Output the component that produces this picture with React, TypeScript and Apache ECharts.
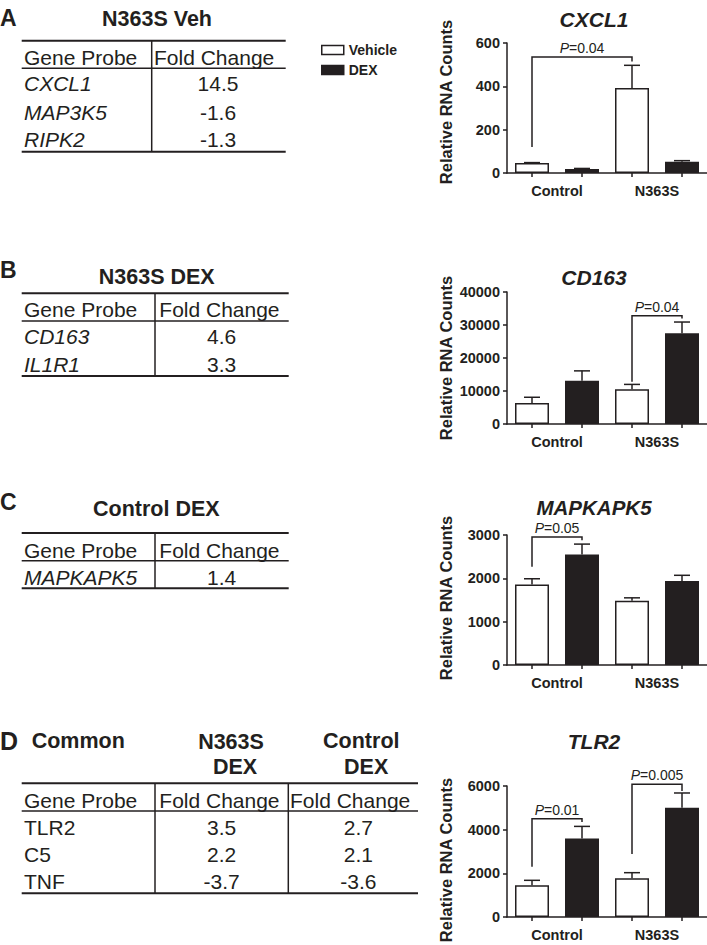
import React, { useEffect, useRef } from "react";
import * as echarts from "echarts";

// ---------- data ----------
const barCategories = ["Control Vehicle", "Control DEX", "N363S Vehicle", "N363S DEX"];
const groupLabels = ["Control", "N363S"];
const seriesNames = ["Vehicle", "DEX"];

const cxcl1Mean = [46, 18, 392, 52];
const cxcl1Sem = [2, 3, 105, 5];
const cd163Mean = [6400, 13100, 10500, 27500];
const cd163Sem = [1700, 3000, 1500, 3400];
const mapkapk5Mean = [1860, 2550, 1480, 1940];
const mapkapk5Sem = [130, 240, 70, 130];
const tlr2Mean = [1450, 3600, 1780, 5000];
const tlr2Sem = [230, 550, 250, 680];

// brackets: [fromBar, toBar, topValue, leftFootValue, rightFootValue]
const cxcl1Brackets = [[0, 2, 535, 120, 515]];
const cxcl1P = ["0.04"];
const cd163Brackets = [[2, 3, 32800, 12800, 32000]];
const cd163P = ["0.04"];
const mapkapk5Brackets = [[0, 1, 2954, 2270, 2880]];
const mapkapk5P = ["0.05"];
const tlr2Brackets = [[0, 1, 4500, 2300, 4350], [2, 3, 6080, 2880, 5770]];
const tlr2P = ["0.01", "0.005"];

const yMax = [600, 40000, 3000, 6000];
const yInterval = [200, 10000, 1000, 2000];
const geneTitles = ["CXCL1", "CD163", "MAPKAPK5", "TLR2"];

// tables
const tableAGenes = ["CXCL1", "MAP3K5", "RIPK2"];
const tableAFold = ["14.5", "-1.6", "-1.3"];
const tableBGenes = ["CD163", "IL1R1"];
const tableBFold = ["4.6", "3.3"];
const tableCGenes = ["MAPKAPK5"];
const tableCFold = ["1.4"];
const tableDGenes = ["TLR2", "C5", "TNF"];
const tableDFoldN363S = ["3.5", "2.2", "-3.7"];
const tableDFoldControl = ["2.7", "2.1", "-3.6"];

// ---------- style ----------
const FONT = '"Liberation Sans", Arial, Helvetica, sans-serif';
const INK = "#231f20";

function txt(text: string, x: number, y: number, size: number, o: any = {}) {
  const el: any = {
    type: "text",
    x,
    y,
    silent: true,
    style: {
      text,
      fill: INK,
      fontSize: size,
      fontFamily: FONT,
      fontWeight: o.bold ? "bold" : "normal",
      fontStyle: o.italic ? "italic" : "normal",
      align: o.align || "left",
      textAlign: o.align || "left",
      verticalAlign: "middle",
      textVerticalAlign: "middle",
    },
  };
  if (o.rotation) el.rotation = o.rotation;
  return el;
}
function ln(x1: number, y1: number, x2: number, y2: number, w: number) {
  return {
    type: "line",
    silent: true,
    shape: { x1, y1, x2, y2 },
    style: { stroke: INK, lineWidth: w },
  };
}

function buildGraphics() {
  const g: any[] = [];
  const TS = 21;
  const HS = 21.5;
  const LS = 23;
  // Panel A
  g.push(txt("A", 0, 17.5, LS, { bold: true }));
  g.push(txt("N363S Veh", 157, 19, HS, { bold: true, align: "center" }));
  g.push(ln(21.7, 40.7, 285.7, 40.7, 2));
  g.push(ln(21.7, 68.3, 285.7, 68.3, 1.5));
  g.push(ln(21.7, 151.7, 285.7, 151.7, 2));
  g.push(ln(151.7, 40.7, 151.7, 151.7, 1.5));
  g.push(txt("Gene Probe", 24, 57.3, TS));
  g.push(txt("Fold Change", 154, 57.3, TS));
  const rowsA = [83.3, 112.3, 139.3];
  tableAGenes.forEach((s, i) => {
    g.push(txt(s, 24, rowsA[i], TS, { italic: true }));
    g.push(txt(tableAFold[i], 218, rowsA[i], TS, { align: "center" }));
  });

  // Panel B
  g.push(txt("B", 0, 269.5, LS, { bold: true }));
  g.push(txt("N363S DEX", 156.7, 277.3, HS, { bold: true, align: "center" }));
  g.push(ln(21.7, 293.3, 288.7, 293.3, 2));
  g.push(ln(21.7, 321, 288.7, 321, 1.5));
  g.push(ln(21.7, 376, 288.7, 376, 2));
  g.push(ln(155, 293.3, 155, 376, 1.5));
  g.push(txt("Gene Probe", 24, 309, TS));
  g.push(txt("Fold Change", 159.3, 309, TS));
  const rowsB = [336.7, 364.3];
  tableBGenes.forEach((s, i) => {
    g.push(txt(s, 24, rowsB[i], TS, { italic: true }));
    g.push(txt(tableBFold[i], 221.7, rowsB[i], TS, { align: "center" }));
  });

  // Panel C
  g.push(txt("C", 0, 501.5, LS, { bold: true }));
  g.push(txt("Control DEX", 156.3, 509, HS, { bold: true, align: "center" }));
  g.push(ln(21.7, 533, 288.7, 533, 2));
  g.push(ln(21.7, 560.7, 288.7, 560.7, 1.5));
  g.push(ln(21.7, 588.3, 288.7, 588.3, 2));
  g.push(ln(155, 533, 155, 588.3, 1.5));
  g.push(txt("Gene Probe", 24, 550, TS));
  g.push(txt("Fold Change", 159.3, 550, TS));
  const rowsC = [577.7];
  tableCGenes.forEach((s, i) => {
    g.push(txt(s, 24, rowsC[i], TS, { italic: true }));
    g.push(txt(tableCFold[i], 221.7, rowsC[i], TS, { align: "center" }));
  });

  // Panel D
  g.push(txt("D", 0, 741, 25, { bold: true }));
  g.push(txt("Common", 31.7, 740.7, HS, { bold: true }));
  g.push(txt("N363S", 231, 741.7, HS, { bold: true, align: "center" }));
  g.push(txt("DEX", 235, 767.3, HS, { bold: true, align: "center" }));
  g.push(txt("Control", 361.3, 741, HS, { bold: true, align: "center" }));
  g.push(txt("DEX", 366.2, 767.3, HS, { bold: true, align: "center" }));
  g.push(ln(21.7, 783.3, 418, 783.3, 2));
  g.push(ln(21.7, 811, 418, 811, 1.5));
  g.push(ln(21.7, 893.3, 418, 893.3, 2));
  g.push(ln(155, 783.3, 155, 893.3, 1.5));
  g.push(ln(288.3, 783.3, 288.3, 893.3, 1.5));
  g.push(txt("Gene Probe", 24, 800, TS));
  g.push(txt("Fold Change", 159.3, 800, TS));
  g.push(txt("Fold Change", 290, 800, TS));
  const rowsD = [827.7, 854, 881.7];
  tableDGenes.forEach((s, i) => {
    g.push(txt(s, 24, rowsD[i], TS));
    g.push(txt(tableDFoldN363S[i], 221.7, rowsD[i], TS, { align: "center" }));
    g.push(txt(tableDFoldControl[i], 358.3, rowsD[i], TS, { align: "center" }));
  });

  // chart titles & y names
  const titleY = [19, 277, 507.5, 741.7];
  const titleSize = [21, 21, 20.5, 21];
  const nameY = [102, 358, 598, 860];
  geneTitles.forEach((t, k) => {
    g.push(txt(t, 594, titleY[k], titleSize[k], { bold: true, italic: true, align: "center" }));
    g.push(
      txt("Relative RNA Counts", 446, nameY[k], 16.5, {
        bold: true,
        align: "center",
        rotation: Math.PI / 2,
      })
    );
  });
  return g;
}

export default function App() {
  const ref = useRef<HTMLDivElement>(null);
  useEffect(() => {
    if (!ref.current) return;
    const chart = echarts.init(ref.current, undefined, { renderer: "svg" });

    const means = [cxcl1Mean, cd163Mean, mapkapk5Mean, tlr2Mean];
    const sems = [cxcl1Sem, cd163Sem, mapkapk5Sem, tlr2Sem];
    const brackets = [cxcl1Brackets, cd163Brackets, mapkapk5Brackets, tlr2Brackets];
    const pLabels = [cxcl1P, cd163P, mapkapk5P, tlr2P];
    const grids = [
      { left: 507, top: 43, width: 200, height: 130 },
      { left: 507, top: 292, width: 200, height: 132 },
      { left: 507, top: 535, width: 200, height: 130 },
      { left: 507, top: 786, width: 200, height: 131 },
    ];

    const axisLineStyle = { color: INK, width: 1.5 };
    const grid: any[] = [];
    const xAxis: any[] = [];
    const yAxis: any[] = [];
    const series: any[] = [];

    grids.forEach((gp, k) => {
      grid.push({ ...gp, containLabel: false, outerBoundsMode: "none" });
      xAxis.push({
        type: "category",
        gridIndex: k,
        data: barCategories,
        position: "bottom",
        axisLine: { show: true, lineStyle: axisLineStyle },
        axisTick: { show: true, alignWithLabel: true, interval: 0, length: 4, lineStyle: axisLineStyle },
        axisLabel: { show: false },
        splitLine: { show: false },
      });
      xAxis.push({
        type: "category",
        gridIndex: k,
        data: groupLabels,
        position: "bottom",
        axisLine: { show: false },
        axisTick: { show: false },
        axisLabel: {
          show: true,
          color: INK,
          fontFamily: FONT,
          fontWeight: "bold",
          fontSize: 14.5,
          margin: 10,
        },
        splitLine: { show: false },
      });
      yAxis.push({
        type: "value",
        gridIndex: k,
        min: 0,
        max: yMax[k],
        interval: yInterval[k],
        axisLine: { show: true, lineStyle: axisLineStyle },
        axisTick: { show: true, length: 4, lineStyle: axisLineStyle },
        splitLine: { show: false },
        axisLabel: {
          color: INK,
          fontFamily: FONT,
          fontWeight: "bold",
          fontSize: 14.5,
          margin: 7,
          formatter: (v: number) => String(v),
        },
      });
      const mean = means[k];
      const sem = sems[k];
      series.push({
        type: "bar",
        name: seriesNames[0],
        xAxisIndex: 2 * k,
        yAxisIndex: k,
        barWidth: 34,
        barGap: "-100%",
        data: mean.map((v, i) => (i % 2 === 0 ? v : "-")),
        itemStyle: { color: "#ffffff", borderColor: INK, borderWidth: 1.5 },
        z: 2,
      });
      series.push({
        type: "bar",
        name: seriesNames[1],
        xAxisIndex: 2 * k,
        yAxisIndex: k,
        barWidth: 34,
        barGap: "-100%",
        data: mean.map((v, i) => (i % 2 === 1 ? v : "-")),
        itemStyle: { color: INK, borderColor: INK, borderWidth: 1.5 },
        z: 2,
      });
      series.push({
        type: "custom",
        xAxisIndex: 2 * k,
        yAxisIndex: k,
        z: 3,
        silent: true,
        data: mean.map((v, i) => [i, v, sem[i]]),
        renderItem: (params: any, api: any) => {
          const i = params.dataIndex;
          const base = api.coord([i, mean[i]]);
          const top = api.coord([i, mean[i] + sem[i]]);
          const hw = 8;
          return {
            type: "group",
            children: [
              {
                type: "line",
                shape: { x1: base[0], y1: base[1], x2: top[0], y2: top[1] },
                style: { stroke: INK, lineWidth: 1.5 },
              },
              {
                type: "line",
                shape: { x1: top[0] - hw, y1: top[1], x2: top[0] + hw, y2: top[1] },
                style: { stroke: INK, lineWidth: 1.5 },
              },
            ],
          };
        },
      });
      const br = brackets[k];
      const pl = pLabels[k];
      series.push({
        type: "custom",
        xAxisIndex: 2 * k,
        yAxisIndex: k,
        z: 4,
        clip: false,
        silent: true,
        data: br.map((b) => [b[0], b[2]]),
        renderItem: (params: any, api: any) => {
          const b = br[params.dataIndex];
          const pL = api.coord([b[0], b[3]]);
          const pTL = api.coord([b[0], b[2]]);
          const pTR = api.coord([b[1], b[2]]);
          const pR = api.coord([b[1], b[4]]);
          return {
            type: "group",
            children: [
              {
                type: "polyline",
                shape: { points: [pL, pTL, pTR, pR] },
                style: { stroke: INK, lineWidth: 1.5, fill: "none" },
              },
              {
                type: "text",
                x: (pTL[0] + pTR[0]) / 2,
                y: pTL[1] - 9,
                style: {
                  text: "{i|P}=" + pl[params.dataIndex],
                  fill: INK,
                  fontSize: 14,
                  fontFamily: FONT,
                  align: "center",
                  verticalAlign: "middle",
                  rich: {
                    i: { fontStyle: "italic", fontSize: 14, fontFamily: FONT, fill: INK, color: INK },
                  },
                },
              },
            ],
          };
        },
      });
    });

    chart.setOption({
      animation: false,
      backgroundColor: "#ffffff",
      grid,
      xAxis,
      yAxis,
      series,
      legend: {
        show: true,
        selectedMode: false,
        orient: "vertical",
        left: 316,
        top: 38,
        itemWidth: 22,
        itemHeight: 9,
        itemGap: 6,
        icon: "rect",
        textStyle: { color: INK, fontFamily: FONT, fontWeight: "bold", fontSize: 14 },
        data: [
          { name: "Vehicle", itemStyle: { color: "#ffffff", borderColor: INK, borderWidth: 1.5 } },
          { name: "DEX", itemStyle: { color: INK, borderColor: INK, borderWidth: 1.5 } },
        ],
      },
      graphic: { elements: buildGraphics() },
    });
    return () => chart.dispose();
  }, []);
  return (
    <div
      ref={ref}
      style={{ position: "absolute", left: 0, top: 0, width: 707, height: 945, background: "#fff" }}
    />
  );
}
